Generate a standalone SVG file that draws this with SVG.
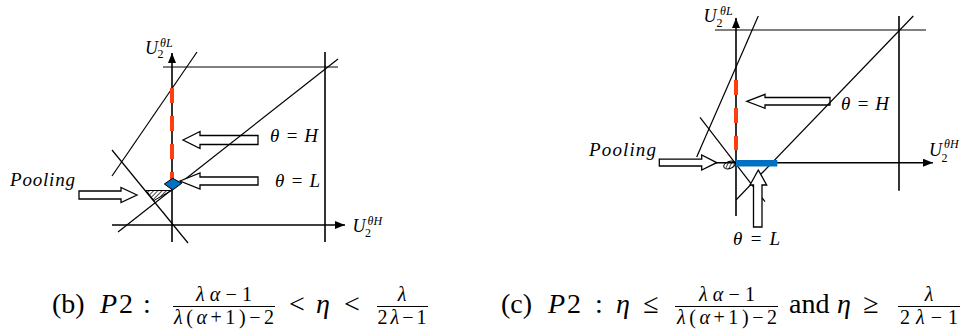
<svg xmlns="http://www.w3.org/2000/svg" width="967" height="335" viewBox="0 0 967 335">
<style>
.ln{stroke:#000;stroke-width:1.2;fill:none}
.ax{stroke:#000;stroke-width:1.6;fill:none}
.red{stroke:#ff3f10;stroke-width:4;stroke-dasharray:15 13;fill:none}
.blk{fill:#fff;stroke:#000;stroke-width:1.3}
.lab{font-family:"Liberation Serif",serif;font-style:italic;font-size:19px;fill:#000}
.u{font-family:"Liberation Serif",serif;font-style:italic;font-size:18px;fill:#000}
.s{font-family:"Liberation Serif",serif;font-size:12px;fill:#000}
.si{font-family:"Liberation Serif",serif;font-style:italic;font-size:12px;fill:#000}
.cap{font-family:"Liberation Serif",serif;font-size:28px;fill:#000}
.fr{font-family:"Liberation Serif",serif;font-size:20px;fill:#000}
.i{font-style:italic}
.bar{stroke:#000;stroke-width:1.1}
</style>
<defs>
<marker id="ah" viewBox="0 0 10 8" refX="10" refY="4" markerWidth="10" markerHeight="8" markerUnits="userSpaceOnUse" orient="auto">
<path d="M0,0 L10,4 L0,8 Z" fill="#000"/>
</marker>
<pattern id="hatch" patternUnits="userSpaceOnUse" width="3" height="3" patternTransform="rotate(45)">
<line x1="0" y1="0" x2="0" y2="3" stroke="#000" stroke-width="1.4"/>
</pattern>
</defs>

<g id="panel-b">
  <g id="b-arrow-H"><path class="blk" d="M183,140 L200,131.5 L200,135.5 L258,135.5 L258,144.5 L200,144.5 L200,148.5 Z"/></g>
  <g id="b-lines">
    <line class="ln" x1="197" y1="52" x2="112" y2="176"/>
    <line class="ln" x1="338" y1="59" x2="118" y2="232"/>
    <line class="ln" x1="112" y1="150" x2="188" y2="243"/>
    <line class="ln" x1="163" y1="67" x2="338" y2="67"/>
    <line class="ax" x1="325" y1="52" x2="325" y2="242"/>
  </g>
  <g id="b-axes">
    <line class="ax" x1="172" y1="242" x2="172" y2="53" marker-end="url(#ah)"/>
    <line class="ax" x1="112" y1="225" x2="345" y2="225" marker-end="url(#ah)"/>
  </g>
  <line id="b-red" class="red" x1="172" y1="88" x2="172" y2="180"/>
  <polygon id="b-hatch" points="146,190.5 171.5,190.5 154,200.5" fill="url(#hatch)" stroke="#000" stroke-width="1"/>
  <polygon id="b-diamond" points="164.3,184 172.7,178.3 181.7,183.3 172.7,190" fill="#0070c0" stroke="#000" stroke-width="1"/>
  <g id="b-arrow-L"><path class="blk" d="M180,181 L200,173 L200,177 L258,177 L258,185 L200,185 L200,189 Z"/></g>
  <g id="b-arrow-pool"><path class="blk" d="M137,195 L121,187.5 L121,191 L79,191 L79,199 L121,199 L121,202.5 Z"/></g>
  <g id="b-labels">
    <text class="lab" x="270" y="142" textLength="48" lengthAdjust="spacing">θ = H</text>
    <text class="lab" x="275" y="187" textLength="45" lengthAdjust="spacing">θ = L</text>
    <text class="lab" x="10" y="186" font-size="17" textLength="65" lengthAdjust="spacing">Pooling</text>
    <text class="u" x="145" y="53.5">U</text><text class="s" x="157.5" y="58">2</text><text class="si" x="160" y="46.5">θL</text>
    <text class="u" x="352.5" y="232">U</text><text class="s" x="365" y="237">2</text><text class="si" x="367.5" y="225">θH</text>
  </g>
  <g id="b-caption">
    <text class="cap" x="52" y="313">(b)</text>
    <text class="cap i" x="100" y="313">P</text>
    <text class="cap" x="119" y="313">2</text>
    <text class="cap" x="143" y="313">:</text>
    <text class="fr" x="224" y="301" text-anchor="middle" textLength="56" lengthAdjust="spacing"><tspan class="i">λα</tspan>−1</text>
    <line class="bar" x1="173" y1="306.5" x2="275" y2="306.5"/>
    <text class="fr" x="224" y="324" text-anchor="middle" textLength="100" lengthAdjust="spacing"><tspan class="i">λ</tspan>(<tspan class="i">α</tspan>+1)−2</text>
    <text class="cap" x="297" y="313" text-anchor="middle">&lt;</text>
    <text class="cap i" x="316" y="313">η</text>
    <text class="cap" x="352" y="313" text-anchor="middle">&lt;</text>
    <text class="fr i" x="402" y="301" text-anchor="middle">λ</text>
    <line class="bar" x1="377" y1="306.5" x2="428" y2="306.5"/>
    <text class="fr" x="402" y="324" text-anchor="middle" textLength="49" lengthAdjust="spacing">2<tspan class="i">λ</tspan>−1</text>
  </g>
</g>

<g id="panel-c">
  <g id="c-arrow-H"><path class="blk" d="M746.7,101.3 L765,94.3 L765,97.5 L830,97.5 L830,105 L765,105 L765,108.3 Z"/></g>
  <g id="c-lines">
    <line class="ln" x1="758.3" y1="16" x2="696.7" y2="157"/>
    <line class="ln" x1="913.3" y1="16" x2="736" y2="200"/>
    <line class="ln" x1="700" y1="117.3" x2="765" y2="201.7"/>
    <line class="ln" x1="715" y1="30" x2="926" y2="30"/>
    <line class="ax" x1="899" y1="16" x2="899" y2="190.7"/>
  </g>
  <g id="c-axes">
    <line class="ax" x1="736" y1="216" x2="736" y2="18" marker-end="url(#ah)"/>
    <line class="ax" x1="693" y1="162.7" x2="933" y2="162.7" marker-end="url(#ah)"/>
  </g>
  <line id="c-red" class="red" x1="736" y1="80" x2="736" y2="150"/>
  <line id="c-blue" x1="736" y1="163.3" x2="777.3" y2="163.3" stroke="#0070c0" stroke-width="6.5"/>
  <ellipse id="c-hatch" cx="729.5" cy="165" rx="6" ry="3.5" transform="rotate(-20 729.5 165)" fill="url(#hatch)" stroke="#000" stroke-width="1"/>
  <g id="c-arrow-L"><path class="blk" d="M758.3,170 L750,185 L753.5,185 L753.5,227 L762,227 L762,185 L766.7,185 Z"/></g>
  <g id="c-arrow-pool"><path class="blk" d="M716.7,162.7 L701.7,155 L701.7,159.2 L659.3,159.2 L659.3,166 L701.7,166 L701.7,170 Z"/></g>
  <g id="c-labels">
    <text class="lab" x="841" y="110" textLength="48" lengthAdjust="spacing">θ = H</text>
    <text class="lab" x="733" y="245" textLength="47" lengthAdjust="spacing">θ = L</text>
    <text class="lab" x="589" y="155.5" font-size="17" textLength="67" lengthAdjust="spacing">Pooling</text>
    <text class="u" x="703.5" y="22">U</text><text class="s" x="716.5" y="26.5">2</text><text class="si" x="720" y="14.5">θL</text>
    <text class="u" x="929" y="155.5">U</text><text class="s" x="941.5" y="161.5">2</text><text class="si" x="944" y="148">θH</text>
  </g>
  <g id="c-caption">
    <text class="cap" x="501" y="313">(c)</text>
    <text class="cap i" x="548" y="313">P</text>
    <text class="cap" x="567" y="313">2</text>
    <text class="cap" x="595" y="313">:</text>
    <text class="cap i" x="616" y="313">η</text>
    <text class="cap" x="651" y="313" text-anchor="middle">≤</text>
    <text class="fr" x="727" y="301" text-anchor="middle" textLength="56" lengthAdjust="spacing"><tspan class="i">λα</tspan>−1</text>
    <line class="bar" x1="675" y1="306.5" x2="778" y2="306.5"/>
    <text class="fr" x="727" y="324" text-anchor="middle" textLength="100" lengthAdjust="spacing"><tspan class="i">λ</tspan>(<tspan class="i">α</tspan>+1)−2</text>
    <text class="cap" x="789" y="313">and</text>
    <text class="cap i" x="837" y="313">η</text>
    <text class="cap" x="871" y="313" text-anchor="middle">≥</text>
    <text class="fr i" x="929" y="301" text-anchor="middle">λ</text>
    <line class="bar" x1="898" y1="306.5" x2="960" y2="306.5"/>
    <text class="fr" x="929" y="324" text-anchor="middle" textLength="58" lengthAdjust="spacing">2<tspan class="i">λ</tspan>−1</text>
  </g>
</g>
</svg>
